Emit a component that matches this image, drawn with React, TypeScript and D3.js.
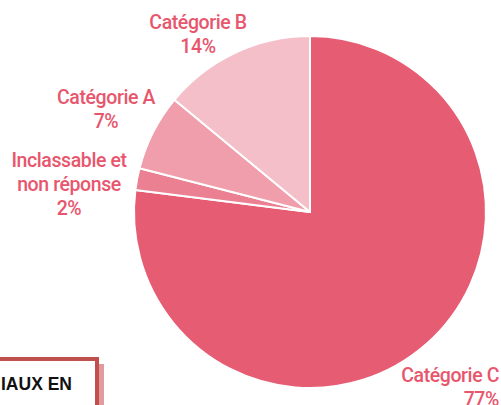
import React from "react";
import * as d3 from "d3";

const categories = ["Catégorie C", "Inclassable et non réponse", "Catégorie A", "Catégorie B"];
const values = [77, 2, 7, 14];
const labelLines = [["Catégorie C", "77%"], ["Inclassable et", "non réponse", "2%"], ["Catégorie A", "7%"], ["Catégorie B", "14%"]];
const colors = ["#e65c72", "#ea8091", "#f09dac", "#f5bfca"];

const W = 501, H = 405;
const cx = 310, cy = 212, R = 176;
const labelPos = [
  { x: 499, y: 382, anchor: "end" },
  { x: 69, y: 167, anchor: "middle" },
  { x: 106, y: 104, anchor: "middle" },
  { x: 198, y: 29, anchor: "middle" },
];

export default function App() {
  const pie = d3.pie<number>().sort(null).value((d) => d)(values);
  const arc = d3.arc<d3.PieArcDatum<number>>().innerRadius(0).outerRadius(R);
  const font = "Roboto, sans-serif";
  return (
    <svg width={W} height={H} style={{ position: "fixed", left: 0, top: 0 }}>
      <rect width={W} height={H} fill="#fff" />
      <g transform={`translate(${cx},${cy})`}>
        {pie.map((p, i) => (
          <path key={categories[i]} d={arc(p) || ""} fill={colors[i]} stroke="#fff" strokeWidth={2} strokeLinejoin="round" />
        ))}
      </g>
      {labelLines.map((lines, i) => (
        <text key={i} x={labelPos[i].x} y={labelPos[i].y} textAnchor={labelPos[i].anchor as any} fill="#e8566e" fontFamily={font} fontSize={19.5} fontWeight={500} letterSpacing={-0.4}>
          {lines.map((l, j) => (
            <tspan key={j} x={labelPos[i].x} dy={j === 0 ? 0 : 24}>{l}</tspan>
          ))}
        </text>
      ))}
      <rect x={-10} y={364} width={114} height={60} fill="#e39a9c" />
      <rect x={-10} y={359} width={107} height={60} fill="#fff" stroke="#c0504d" strokeWidth={4} />
      <text x={1} y={390} fontFamily="'Liberation Sans', Arial, sans-serif" fontWeight="bold" fontSize={17.5} fill="#111">IAUX EN</text>
    </svg>
  );
}
